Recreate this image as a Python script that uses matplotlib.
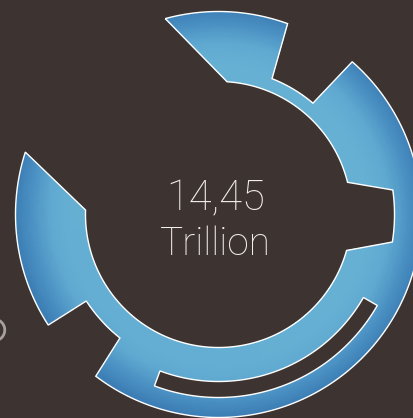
import numpy as np
import matplotlib
matplotlib.use('Agg')
import matplotlib.pyplot as plt
from matplotlib.colors import LinearSegmentedColormap
from matplotlib.patches import Circle

# Ring outline, walked once around: (theta_from, theta_to, radius) in degrees.
# Consecutive runs are joined by straight edges.
run_theta_from = [105.2, 68.5, 48.8, -128.6, -147.0, -181.9, -9.0, 14.0]
run_theta_to = [70.1, 49.7, -127.2, -146.8, -197.9, -15.7, 8.0, 86.3]
run_radius = [203, 146, 203, 158, 203, 133, 176, 133]

# Inner slot cut out of the lower right band
slot_theta = [-110.5, -29.8]
slot_radius = [167, 183]

total_value = "14,45"
total_unit = "Trillion"

BG = '#3d3432'
R_MAX = 210


def arc(t0, t1, r):
    n = max(2, int(abs(t1 - t0) / 0.5) + 1)
    t = np.linspace(t0, t1, n)
    return list(np.deg2rad(t)), [r] * n


fig = plt.figure(figsize=(4.14, 4.18), dpi=100)
fig.patch.set_facecolor(BG)

# centre of the ring in pixels, polar axes scaled so 1 data unit = 1 px
cx, cy = 218.5, 418 - 214.5
ax = fig.add_axes([(cx - R_MAX) / 414, (cy - R_MAX) / 418,
                   2 * R_MAX / 414, 2 * R_MAX / 418], projection='polar')
ax.set_ylim(0, R_MAX)
ax.axis('off')

theta, rad = [], []
for t0, t1, r in zip(run_theta_from, run_theta_to, run_radius):
    tt, rr = arc(t0, t1, r)
    theta += tt
    rad += rr

shape = ax.fill(theta, rad, facecolor='#5aa2cb', edgecolor='none', zorder=2)[0]

# blue shading: light through the middle of the band, darker towards the rim
cmap = LinearSegmentedColormap.from_list('ring', ['#3b7db4', '#4b91c3', '#5fa8d0', '#66b0d4'])
tg = np.deg2rad(np.linspace(-200, 110, 320))
rg = np.linspace(125, 210, 90)
T, Rg = np.meshgrid(tg, rg)
val = 1 - np.clip((Rg - 148) / 58, 0, 1) ** 1.2
val -= 0.10 * np.clip(-np.sin(T + 0.6), 0, 1)
mesh = ax.pcolormesh(T, Rg, val[:-1, :-1], cmap=cmap, vmin=0, vmax=1,
                     shading='flat', zorder=3, rasterized=True)
mesh.set_clip_path(shape)

ax.fill(theta, rad, facecolor='none', edgecolor='white', lw=1.0, zorder=4)

st, sr = arc(slot_theta[0], slot_theta[1], slot_radius[1])
st2, sr2 = arc(slot_theta[1], slot_theta[0], slot_radius[0])
ax.fill(st + st2, sr + sr2, facecolor=BG, edgecolor='white', lw=1.0, zorder=5)

fig.text(216 / 414, (418 - 210) / 418, total_value, ha='center', va='baseline',
         color='#f2efeb', fontsize=30, family='Roboto', weight='light')
fig.text(215 / 414, (418 - 255) / 418, total_unit, ha='center', va='baseline',
         color='#f2efeb', fontsize=28, family='Roboto', weight='light')

# partly hidden marker at the left border
fig.patches.append(Circle((-6 / 414, (418 - 330) / 418), 0.026, transform=fig.transFigure,
                          facecolor='none', edgecolor='#a7a19e', lw=2.0))

fig.savefig('out.png', dpi=100, facecolor=BG)
